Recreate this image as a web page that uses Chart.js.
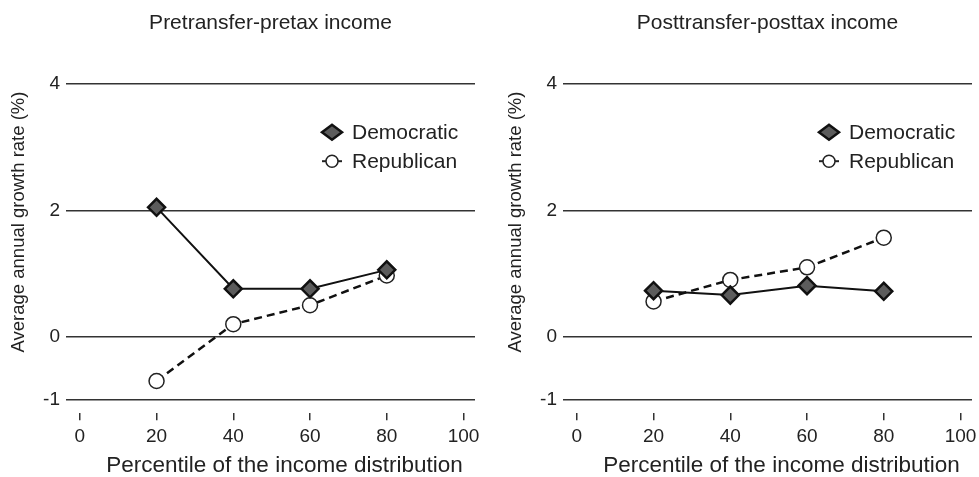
<!DOCTYPE html>
<html><head><meta charset="utf-8">
<script src="https://cdn.jsdelivr.net/npm/chart.js@4.4.1/dist/chart.umd.min.js"></script>
<style>
html,body{margin:0;padding:0;background:#fff;}
#wrap{position:relative;width:979px;height:477px;overflow:hidden;}
.c{position:absolute;top:0;width:486px;height:477px;}
</style></head><body>
<div id="wrap">
<div class="c" style="left:0"><canvas id="c1"></canvas></div>
<div class="c" style="left:497px"><canvas id="c2"></canvas></div>
</div>
<script>
const percentiles = [20, 40, 60, 80];
const xTickValues = [0, 20, 40, 60, 80, 100];
const yTickValues = [-1, 0, 2, 4];
const panelTitles = ['Pretransfer-pretax income', 'Posttransfer-posttax income'];
const seriesNames = ['Democratic', 'Republican'];
const pretaxDemocratic = [2.05, 0.76, 0.76, 1.06];
const pretaxRepublican = [-0.70, 0.20, 0.50, 0.97];
const posttaxDemocratic = [0.73, 0.66, 0.81, 0.72];
const posttaxRepublican = [0.56, 0.90, 1.10, 1.57];
const xTitle = 'Percentile of the income distribution';
const yTitle = 'Average annual growth rate (%)';

const FONT = "'Liberation Sans', Arial, sans-serif";
const INK = '#222';

const overlay = {
  id: 'overlay',
  afterDraw(chart) {
    const ctx = chart.ctx, a = chart.chartArea;
    ctx.save();
    ctx.fillStyle = INK;
    ctx.textAlign = 'center';
    ctx.textBaseline = 'middle';
    // x axis title
    ctx.font = '22.5px ' + FONT;
    ctx.fillText(xTitle, (a.left + a.right) / 2 + 14, 466);
    // y axis title
    ctx.font = '18.5px ' + FONT;
    ctx.translate(19, 222);
    ctx.rotate(-Math.PI / 2);
    ctx.fillText(yTitle, 0, 0);
    ctx.restore();
    ctx.save();
    const H = Chart.helpers;
    chart.data.datasets.forEach((ds, i) => {
      const mx = a.left + 266, my = a.top + 48 + i * 29;
      if (ds.borderDash && ds.borderDash.length) {
        ctx.strokeStyle = '#222'; ctx.lineWidth = 2;
        ctx.beginPath(); ctx.moveTo(mx - 10, my); ctx.lineTo(mx + 10, my); ctx.stroke();
      }
      ctx.fillStyle = ds.pointBackgroundColor;
      ctx.strokeStyle = ds.pointBorderColor;
      ctx.lineWidth = ds.pointBorderWidth;
      const opts = {pointStyle: ds.pointStyle, rotation: 0, radius: ds.legendRadius, borderWidth: ds.pointBorderWidth};
      if (H.drawPointLegend) H.drawPointLegend(ctx, opts, mx, my, ds.legendWidth);
      else H.drawPoint(ctx, opts, mx, my);
      ctx.fillStyle = INK;
      ctx.font = '21px ' + FONT;
      ctx.textAlign = 'left';
      ctx.textBaseline = 'middle';
      ctx.fillText(ds.label, mx + 20, my + 1);
    });
    ctx.restore();
  }
};

function makeChart(id, title, dem, rep) {
  return new Chart(document.getElementById(id), {
    type: 'line',
    data: {
      datasets: [
        {
          label: seriesNames[0],
          data: percentiles.map((p, i) => ({x: p, y: dem[i]})),
          borderColor: '#111', borderWidth: 2,
          pointStyle: 'rectRot', pointRadius: 8.5, legendRadius: 7.5, legendWidth: 20,
          pointBackgroundColor: '#5c5c5c', pointBorderColor: '#111', pointBorderWidth: 2.5
        },
        {
          label: seriesNames[1],
          data: percentiles.map((p, i) => ({x: p, y: rep[i]})),
          borderColor: '#111', borderWidth: 2.5, borderDash: [8, 5],
          pointStyle: 'circle', pointRadius: 7.5, legendRadius: 6, legendWidth: 0,
          pointBackgroundColor: '#fff', pointBorderColor: '#222', pointBorderWidth: 1.5
        }
      ]
    },
    options: {
      responsive: true, maintainAspectRatio: false, animation: false,
      layout: {padding: {left: 0, right: 3, top: 0, bottom: 24}},
      plugins: {
        legend: {display: false},
        tooltip: {enabled: false},
        title: {
          display: true, text: title, fullSize: false, color: INK,
          font: {family: FONT, size: 21, weight: 'normal'},
          padding: {top: 11, bottom: 48}
        }
      },
      scales: {
        x: {
          type: 'linear', min: -3.6, max: 103,
          afterBuildTicks: s => { s.ticks = xTickValues.map(v => ({value: v})); },
          afterFit: s => { s.paddingLeft = 0; s.paddingRight = 0; },
          grid: {drawOnChartArea: false, drawTicks: true, tickLength: 7, color: '#333', lineWidth: 1.5},
          border: {display: false},
          ticks: {color: INK, padding: 5, font: {family: FONT, size: 19, lineHeight: 1.2}, maxRotation: 0}
        },
        y: {
          min: -1.21, max: 4,
          afterBuildTicks: s => { s.ticks = yTickValues.map(v => ({value: v})); },
          afterFit: s => { s.width = 66; },
          grid: {drawTicks: false, color: '#333', lineWidth: 1.5},
          border: {display: false},
          ticks: {color: INK, padding: 6, font: {family: FONT, size: 19}}
        }
      }
    },
    plugins: [overlay]
  });
}
makeChart('c1', panelTitles[0], pretaxDemocratic, pretaxRepublican);
makeChart('c2', panelTitles[1], posttaxDemocratic, posttaxRepublican);
</script>
</body></html>
